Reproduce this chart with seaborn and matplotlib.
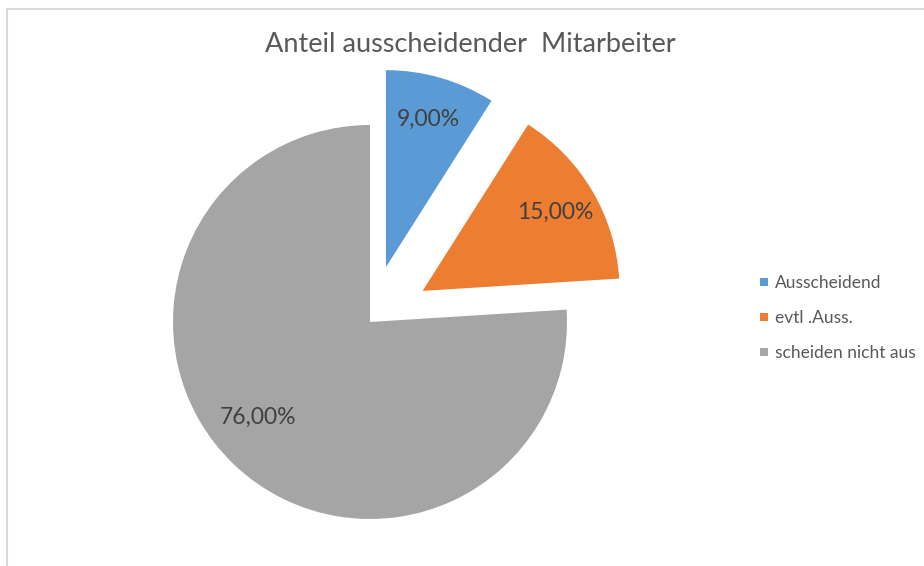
import numpy as np
import matplotlib.pyplot as plt
import seaborn as sns
from matplotlib.lines import Line2D

# Daten
categories = ["Ausscheidend", "evtl .Auss.", "scheiden nicht aus"]
shares = [9.0, 15.0, 76.0]
explode = [0.29, 0.31, 0.0]
colors = ["#5B9BD5", "#ED7D31", "#A5A5A5"]

sns.set_theme(style="white")
plt.rcParams["font.family"] = ["Lato", "DejaVu Sans"]

W, H = 924, 566
fig = plt.figure(figsize=(W / 100, H / 100), dpi=100)

# Tortenmitte bei Pixel (370, 322), Radius ca. 197 px
r = 197
cx, cy = 370, H - 322
left, right, top, bottom = 100, 640, 60, 540
ax = fig.add_axes([left / W, (H - bottom) / H, (right - left) / W, (bottom - top) / H])

wedges, texts, autotexts = ax.pie(
    shares,
    explode=explode,
    colors=colors,
    startangle=90,
    counterclock=False,
    autopct=lambda p: f"{p:.2f}%".replace(".", ","),
    pctdistance=0.78,
    wedgeprops=dict(linewidth=0),
    textprops=dict(color="#404040", fontsize=16.5),
)

# Excel setzt die Beschriftung des großen Stücks etwas weiter links/oben
w = wedges[2]
ang = np.deg2rad((w.theta1 + w.theta2) / 2 - 6.5)
autotexts[2].set_position((w.center[0] + 0.745 * np.cos(ang), w.center[1] + 0.745 * np.sin(ang)))

ax.set_xlim((left - cx) / r, (right - cx) / r)
ax.set_ylim((H - bottom - cy) / r, (H - top - cy) / r)

fig.text(470 / W, 1 - 44 / H, "Anteil ausscheidender  Mitarbeiter",
         ha="center", va="center", fontsize=19.5, color="#595959")

handles = [Line2D([], [], marker="s", linestyle="none", markersize=6,
                  markerfacecolor=c, markeredgewidth=0) for c in colors]
fig.legend(handles, categories, loc="center left",
           bbox_to_anchor=(740 / W, 1 - 318 / H), frameon=False,
           fontsize=12.5, labelcolor="#595959", handletextpad=0.1,
           handlelength=1.0, labelspacing=1.1)

# Rahmen des Diagrammbereichs
fig.add_artist(Line2D([7.5 / W, 1], [1 - 9 / H, 1 - 9 / H], color="#D9D9D9", lw=1.5))
fig.add_artist(Line2D([7.5 / W, 7.5 / W], [0, 1 - 9 / H], color="#D9D9D9", lw=1.5))

fig.savefig("out.png", dpi=100)
